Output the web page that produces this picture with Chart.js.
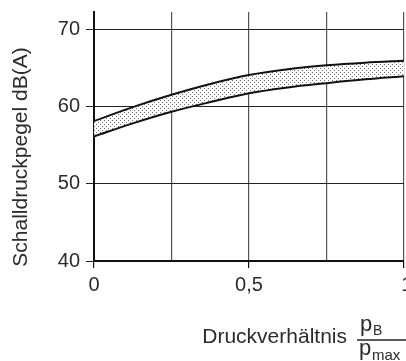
<!DOCTYPE html>
<html>
<head>
<meta charset="utf-8">
<script src="https://cdn.jsdelivr.net/npm/chart.js@4/dist/chart.umd.min.js"></script>
<style>
  html, body { margin: 0; padding: 0; background: #fff; overflow: hidden; }
</style>
</head>
<body>
<canvas id="myChart" width="406" height="361"></canvas>
<script>
// Werte
var ratio = [0, 0.125, 0.25, 0.375, 0.5, 0.625, 0.75, 0.875, 1];
var upperDb = [58.1, 59.9, 61.5, 62.9, 64.05, 64.8, 65.3, 65.65, 65.9];
var lowerDb = [56.1, 57.8, 59.3, 60.55, 61.7, 62.45, 63.0, 63.5, 63.9];
var yTicks = [40, 50, 60, 70];
var xTicks = [0, 0.25, 0.5, 0.75, 1];
var xTickLabels = { 0: '0', 0.5: '0,5', 1: '1' };

var FONT = "'Liberation Sans', Arial, sans-serif";
var TEXT = '#2b2b2b';

// Punktraster fuer die Flaeche zwischen den Kurven
function dotPattern() {
    var c = document.createElement('canvas');
    c.width = 4; c.height = 4;
    var p = c.getContext('2d');
    p.fillStyle = '#fff';
    p.fillRect(0, 0, 4, 4);
    p.fillStyle = '#6a6a6a';
    p.fillRect(0, 0, 1, 1);
    p.fillRect(2, 2, 1, 1);
    return document.getElementById('myChart').getContext('2d').createPattern(c, 'repeat');
}

function pts(ys) {
    return ratio.map(function (x, i) { return { x: x, y: ys[i] }; });
}

// Achsentitel selbst zeichnen (Bruch p_B / p_max)
var titles = {
    id: 'titles',
    afterDraw: function (chart) {
        var ctx = chart.ctx;
        ctx.save();
        ctx.fillStyle = TEXT;
        ctx.textAlign = 'center';
        ctx.textBaseline = 'alphabetic';
        ctx.font = '21px ' + FONT;
        ctx.translate(27, 157);
        ctx.rotate(-Math.PI / 2);
        ctx.fillText('Schalldruckpegel dB(A)', 0, 0);
        ctx.restore();

        ctx.save();
        ctx.fillStyle = TEXT;
        ctx.textBaseline = 'alphabetic';
        ctx.textAlign = 'right';
        ctx.font = '21px ' + FONT;
        ctx.fillText('Druckverhältnis', 347, 343);
        ctx.textAlign = 'left';
        ctx.font = '22px ' + FONT;
        ctx.fillText('p', 360, 331);
        ctx.fillText('p', 359, 355);
        ctx.font = '14px ' + FONT;
        ctx.fillText('B', 373, 335);
        ctx.font = '15px ' + FONT;
        ctx.fillText('max', 372, 360);
        ctx.strokeStyle = '#222';
        ctx.lineWidth = 1.3;
        ctx.beginPath();
        ctx.moveTo(357, 340);
        ctx.lineTo(406, 340);
        ctx.stroke();
        ctx.restore();
    }
};

var chart = new Chart(document.getElementById('myChart'), {
    type: 'line',
    data: {
        datasets: [
            {
                data: pts(upperDb),
                borderColor: '#111',
                borderWidth: 2,
                backgroundColor: dotPattern(),
                fill: '+1',
                pointRadius: 0,
                cubicInterpolationMode: 'monotone'
            },
            {
                data: pts(lowerDb),
                borderColor: '#111',
                borderWidth: 2,
                fill: false,
                pointRadius: 0,
                cubicInterpolationMode: 'monotone'
            }
        ]
    },
    options: {
        responsive: false,
        animation: false,
        layout: { padding: { top: 12, right: 2, left: 0, bottom: 0 } },
        plugins: {
            legend: { display: false },
            tooltip: { enabled: false },
            filler: { drawTime: 'beforeDatasetsDraw' }
        },
        scales: {
            x: {
                type: 'linear',
                min: 0,
                max: 1,
                afterBuildTicks: function (s) {
                    s.ticks = xTicks.map(function (v) { return { value: v }; });
                },
                afterFit: function (s) {
                    s.height = 100;
                    s.paddingRight = 0;
                    s.paddingLeft = 0;
                },
                ticks: {
                    autoSkip: false,
                    maxRotation: 0,
                    padding: 5,
                    color: TEXT,
                    font: { family: FONT, size: 20 },
                    callback: function (v) {
                        var t = xTickLabels[v] || '';
                        return v === 1 ? ' ' + t : t; // "1" sitzt am rechten Rand, halb abgeschnitten
                    }
                },
                grid: {
                    color: '#555',
                    lineWidth: 1.2,
                    tickLength: 7,
                    tickColor: function (c) {
                        var v = c.tick ? c.tick.value : 0;
                        return (v === 0.25 || v === 0.75) ? 'rgba(0,0,0,0)' : '#111';
                    }
                },
                border: { color: '#111', width: 2 }
            },
            y: {
                min: 40,
                max: 72.2,
                afterBuildTicks: function (s) {
                    s.ticks = yTicks.map(function (v) { return { value: v }; });
                },
                afterFit: function (s) {
                    s.width = 94;
                    s.paddingTop = 0;
                    s.paddingBottom = 0;
                },
                ticks: {
                    padding: 6,
                    color: TEXT,
                    font: { family: FONT, size: 20 }
                },
                grid: {
                    color: '#222',
                    lineWidth: 1,
                    tickLength: 8,
                    tickColor: '#222'
                },
                border: { color: '#111', width: 2 }
            }
        }
    },
    plugins: [titles]
});
</script>
</body>
</html>
